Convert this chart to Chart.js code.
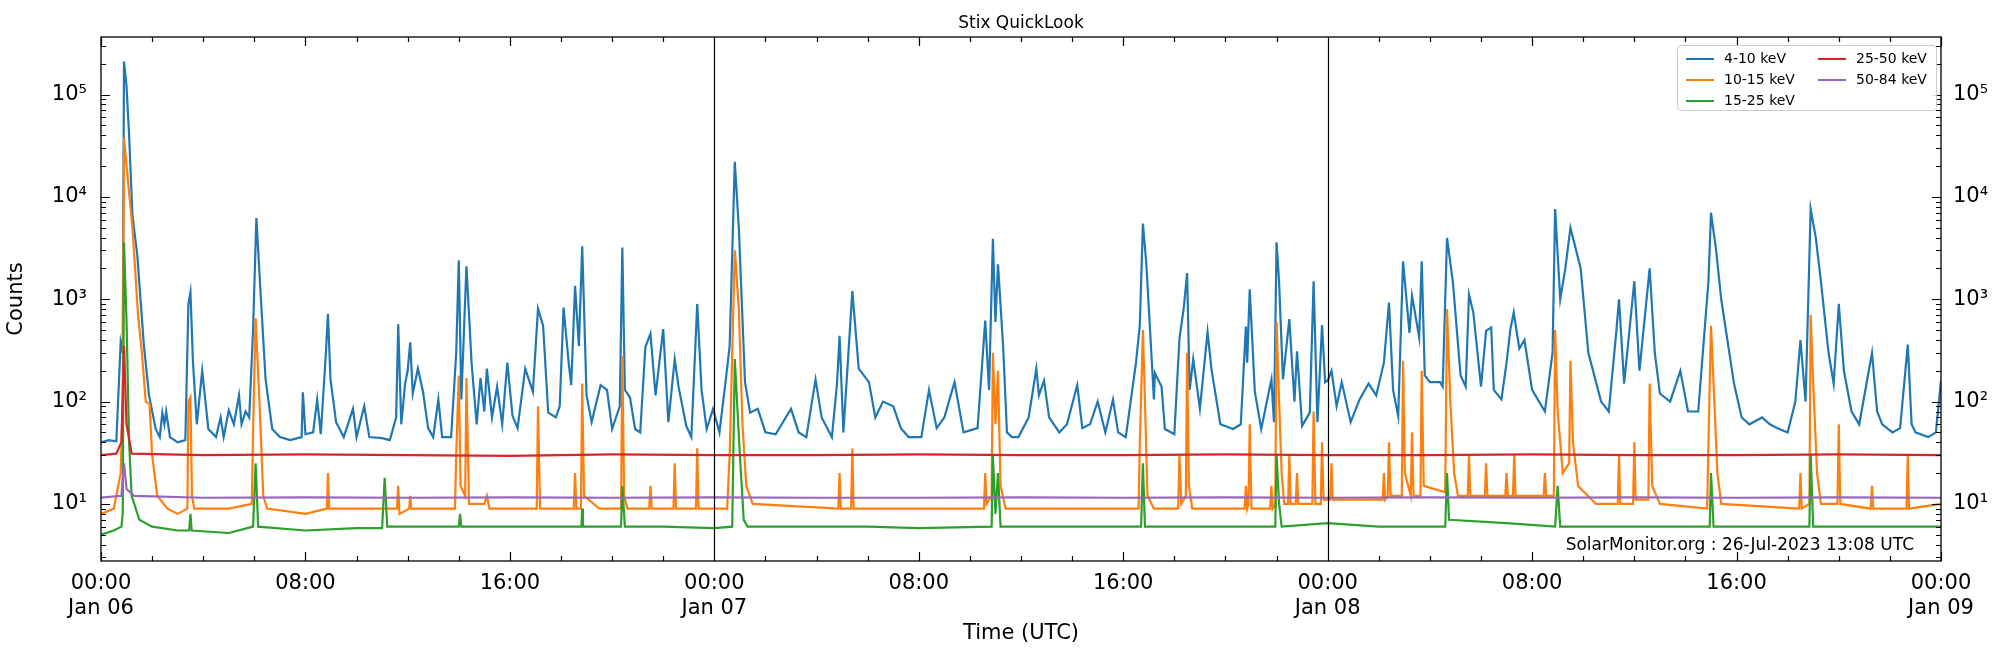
<!DOCTYPE html>
<html><head><meta charset="utf-8">
<script src="https://cdn.jsdelivr.net/npm/chart.js@4/dist/chart.umd.min.js"></script>
<style>
body{margin:0;background:#fff;font-family:"DejaVu Sans",sans-serif;}
#wrap{position:relative;width:2000px;height:650px;}
#title{position:absolute;top:12px;left:101px;width:1840px;text-align:center;font-size:17px;color:#000;}
#legend{position:absolute;left:1677px;top:45px;width:258px;height:64px;border:1px solid #ccc;border-radius:4px;background:rgba(255,255,255,0.85);font-size:14px;}
.it{position:absolute;height:20px;line-height:20px;white-space:nowrap;}
.it span{display:inline-block;width:28px;height:2px;vertical-align:middle;margin-right:10px;}
#note{position:absolute;right:86px;top:534px;font-size:17px;color:#000;}
</style></head><body>
<div id="wrap">
<canvas id="c" width="2000" height="650"></canvas>
<div id="title">Stix QuickLook</div>
<div id="legend"></div>
<div id="note">SolarMonitor.org : 26-Jul-2023 13:08 UTC</div>
</div>
<script>
const seriesNames=["4-10 keV","10-15 keV","15-25 keV","25-50 keV","50-84 keV"];
const dayLabels=["Jan 06","Jan 07","Jan 08","Jan 09"];
const yTickValues=[10,100,1000,10000,100000];
const yTickLabels=["10¹","10²","10³","10⁴","10⁵"];
const dayBoundaries=[24,48];

const blue=[[0,40],[0.3,42],[0.6,41],[0.77,380],[0.85,300],[0.9,210000],[1.0,120000],[1.1,40000],[1.23,6600],[1.42,2700],[1.68,350],[1.88,115],[2.14,54],[2.3,45],[2.4,78],[2.48,60],[2.55,80],[2.7,45],[3.0,40],[3.3,42],[3.42,900],[3.5,1170],[3.6,240],[3.75,60],[3.96,200],[4.2,54],[4.5,45],[4.68,70],[4.8,45],[5.0,82],[5.2,60],[5.4,115],[5.5,60],[5.66,80],[5.8,70],[5.95,500],[6.08,6200],[6.25,1090],[6.44,165],[6.7,54],[7.0,45],[7.4,42],[7.85,45],[7.9,123],[8.0,48],[8.3,50],[8.46,105],[8.6,48],[8.8,300],[8.88,720],[8.98,165],[9.2,63],[9.5,45],[9.86,85],[10.0,45],[10.3,90],[10.5,45],[11.0,44],[11.3,42],[11.55,70],[11.63,570],[11.75,60],[11.9,150],[12.0,200],[12.1,380],[12.2,120],[12.4,210],[12.6,125],[12.8,55],[13.0,45],[13.2,105],[13.35,45],[13.7,45],[13.9,300],[14.0,2400],[14.1,105],[14.3,2100],[14.5,240],[14.7,60],[14.85,170],[15.0,80],[15.1,210],[15.3,70],[15.5,140],[15.7,60],[15.9,240],[16.1,73],[16.3,55],[16.6,210],[16.9,125],[17.1,810],[17.3,550],[17.5,78],[17.8,70],[17.95,90],[18.1,830],[18.3,240],[18.4,145],[18.55,1350],[18.7,350],[18.83,3300],[19.0,115],[19.2,63],[19.55,145],[19.8,130],[20.0,54],[20.3,90],[20.4,3200],[20.5,130],[20.7,110],[20.9,54],[21.1,50],[21.3,340],[21.5,460],[21.7,115],[22.0,510],[22.2,63],[22.45,260],[22.6,140],[22.9,58],[23.1,45],[23.33,900],[23.5,130],[23.7,54],[23.95,85],[24.2,50],[24.45,165],[24.6,350],[24.8,22000],[24.96,4900],[25.2,155],[25.4,78],[25.7,85],[26.0,50],[26.4,48],[27.0,85],[27.3,50],[27.6,45],[27.96,165],[28.2,70],[28.6,45],[28.8,150],[28.9,440],[29.05,50],[29.4,1200],[29.65,210],[30.05,155],[30.3,70],[30.6,100],[31.0,90],[31.3,55],[31.6,45],[32.1,45],[32.4,130],[32.7,55],[33.0,70],[33.4,155],[33.75,50],[34.3,55],[34.6,620],[34.75,130],[34.9,3900],[35.0,600],[35.1,2200],[35.2,870],[35.3,350],[35.45,50],[35.65,45],[35.9,45],[36.3,70],[36.6,210],[36.7,115],[36.9,160],[37.1,70],[37.5,50],[37.8,60],[38.2,145],[38.4,55],[38.7,60],[39.0,100],[39.3,50],[39.6,105],[39.8,50],[40.1,45],[40.5,240],[40.65,560],[40.77,5500],[40.9,2300],[41.1,300],[41.2,105],[41.24,190],[41.5,140],[41.63,54],[42.0,48],[42.2,410],[42.37,830],[42.5,1800],[42.6,130],[42.74,260],[43.0,85],[43.3,480],[43.45,210],[43.8,60],[44.3,54],[44.6,60],[44.8,540],[44.85,240],[44.95,1250],[45.15,125],[45.4,54],[45.8,165],[45.9,63],[46.0,3600],[46.1,1460],[46.25,165],[46.5,640],[46.7,100],[46.8,310],[47.0,58],[47.3,78],[47.45,1500],[47.6,63],[47.78,560],[47.9,155],[48.0,160],[48.15,200],[48.35,90],[48.55,155],[48.9,63],[49.25,105],[49.6,150],[49.9,115],[50.2,240],[50.4,930],[50.56,130],[50.76,72],[50.95,2350],[51.2,470],[51.3,1080],[51.4,780],[51.58,425],[51.68,2350],[51.8,180],[52.0,155],[52.4,155],[52.5,140],[52.67,3970],[52.9,1470],[53.2,180],[53.4,140],[53.53,1110],[53.7,740],[54.0,140],[54.2,490],[54.4,530],[54.5,130],[54.8,105],[55.0,240],[55.15,510],[55.28,740],[55.5,330],[55.7,400],[56.0,130],[56.5,80],[56.8,300],[56.9,7600],[57.1,1000],[57.3,2000],[57.5,5000],[57.9,2000],[58.2,300],[58.7,100],[59.0,80],[59.3,500],[59.4,1000],[59.6,150],[60.0,1500],[60.2,200],[60.6,2000],[60.8,300],[61.0,120],[61.4,100],[61.8,200],[62.1,80],[62.5,80],[62.9,1500],[63.0,7000],[63.2,3000],[63.4,1000],[63.9,150],[64.2,70],[64.5,60],[65.0,70],[65.3,60],[65.6,55],[66.0,50],[66.3,100],[66.5,400],[66.7,100],[66.9,7600],[67.1,4000],[67.3,1500],[67.6,300],[67.8,150],[68.0,900],[68.2,200],[68.5,80],[68.8,60],[69.3,300],[69.5,80],[69.7,60],[70.1,50],[70.4,55],[70.7,360],[70.85,60],[71.0,50],[71.5,45],[71.8,50],[72.0,160]];

const orange=[[0,8],[0.5,9],[0.77,20],[0.85,100],[0.9,38000],[1.0,20000],[1.23,5000],[1.45,700],[1.6,300],[1.75,100],[1.9,95],[2.0,30],[2.2,12],[2.6,9],[3.0,8],[3.38,9],[3.42,100],[3.5,110],[3.56,12],[3.65,9],[5.0,9],[5.9,10],[5.95,50],[6.05,650],[6.2,100],[6.35,12],[6.5,9],[8.0,8],[8.84,9],[8.88,20],[8.93,9],[11.58,9],[11.63,15],[11.68,8],[12.06,9],[12.1,12],[12.14,9],[13.85,9],[13.9,30],[14.0,180],[14.07,15],[14.25,12],[14.3,170],[14.4,10],[15.0,10],[15.1,12],[15.2,9],[17.05,9],[17.1,90],[17.18,9],[18.5,9],[18.55,20],[18.6,9],[18.78,9],[18.83,150],[18.9,12],[19.5,9],[20.35,9],[20.4,280],[20.47,12],[20.6,9],[21.45,9],[21.5,15],[21.55,9],[22.4,9],[22.45,25],[22.5,9],[23.28,9],[23.33,35],[23.38,9],[24.5,9],[24.6,30],[24.8,3000],[24.96,800],[25.1,60],[25.25,15],[25.5,10],[28.85,9],[28.9,20],[28.95,9],[29.35,9],[29.4,35],[29.45,9],[34.55,9],[34.6,20],[34.65,10],[34.85,12],[34.9,300],[35.0,60],[35.1,200],[35.2,15],[35.4,9],[40.6,9],[40.65,40],[40.77,500],[40.85,100],[40.95,12],[41.2,9],[42.15,9],[42.2,30],[42.27,10],[42.45,12],[42.5,300],[42.57,15],[42.7,9],[44.75,9],[44.8,15],[44.85,9],[44.9,10],[44.95,60],[45.02,9],[45.75,9],[45.8,15],[45.85,9],[45.95,10],[46.0,600],[46.1,100],[46.2,20],[46.3,10],[46.45,10],[46.5,30],[46.55,10],[46.75,10],[46.8,20],[46.85,10],[47.4,10],[47.45,80],[47.52,10],[47.73,10],[47.78,40],[47.84,11],[48.1,11],[48.15,25],[48.2,11],[49.5,11],[50.15,11],[50.2,20],[50.25,11],[50.35,12],[50.4,40],[50.46,12],[50.9,12],[50.95,250],[51.02,20],[51.25,12],[51.3,50],[51.36,12],[51.63,12],[51.68,200],[51.76,15],[52.6,13],[52.67,800],[52.8,100],[52.95,20],[53.1,12],[53.48,12],[53.53,30],[53.58,12],[54.15,12],[54.2,25],[54.25,12],[54.95,12],[55.0,20],[55.05,12],[55.25,12],[55.3,30],[55.35,12],[56.45,12],[56.5,20],[56.55,12],[56.85,12],[56.9,500],[57.0,80],[57.2,20],[57.45,25],[57.5,250],[57.6,40],[57.8,15],[58.5,10],[59.35,10],[59.4,30],[59.45,10],[59.95,10],[60.0,40],[60.05,11],[60.55,11],[60.6,150],[60.7,15],[61.0,10],[62.85,9],[62.9,40],[63.0,550],[63.1,150],[63.25,20],[63.4,10],[66.45,9],[66.5,20],[66.55,9],[66.85,10],[66.9,700],[67.0,150],[67.15,20],[67.3,10],[67.95,10],[68.0,60],[68.06,10],[69.25,9],[69.3,15],[69.35,9],[70.65,9],[70.7,30],[70.75,9],[72,10]];

const green=[[0,5],[0.5,5.5],[0.8,6],[0.85,8],[0.9,3600],[1.0,600],[1.1,40],[1.2,12],[1.5,7],[2,6],[3.0,5.5],[3.45,5.5],[3.5,8],[3.55,5.5],[5,5.2],[5.95,6],[6.05,25],[6.15,6],[8,5.5],[10,5.8],[11.0,5.8],[11.1,18],[11.2,6],[14,6],[14.05,8],[14.1,6],[16,6],[18.8,6],[18.83,9],[18.86,6],[20.35,6],[20.4,15],[20.5,6],[22,6],[24,5.8],[24.7,6],[24.8,260],[25.0,30],[25.15,7],[25.3,6],[28,6],[30,6],[32,5.8],[34.85,6],[34.9,30],[35.0,8],[35.1,20],[35.2,6],[38,6],[40.7,6],[40.77,25],[40.85,6],[44,6],[45.95,6],[46.0,30],[46.1,10],[46.2,6],[48,6.5],[50,6],[52.6,6],[52.67,20],[52.75,7],[55,6.5],[56.9,6],[57,15],[57.1,6],[60,6],[62.95,6],[63,20],[63.1,6],[66,6],[66.85,6],[66.9,30],[67.0,6],[69,6],[72,6]];

const red=[[0,30],[0.6,31],[0.8,40],[0.9,350],[1.0,60],[1.2,31],[4,30],[8,30.5],[12,30],[16,29.5],[20,30.5],[24,30],[28,30],[32,30.5],[36,30],[40,30],[44,30.5],[48,30],[52,30],[56,30.5],[60,30],[64,30],[68,30.5],[72,30]];

const purple=[[0,11.5],[0.8,12],[0.9,25],[1.0,14],[1.3,12],[4,11.5],[8,11.6],[12,11.5],[16,11.6],[20,11.5],[24,11.6],[28,11.5],[32,11.5],[36,11.6],[40,11.5],[44,11.6],[48,11.5],[52,11.6],[56,11.5],[60,11.6],[64,11.5],[68,11.6],[72,11.5]];

const colors=["#1f77b4","#ff7f0e","#2ca02c","#d62728","#9467bd"];
const allSeries=[blue,orange,green,red,purple];

const leg=document.getElementById('legend');
const pos=[[8,2],[8,23],[8,44],[140,2],[140,23]];
seriesNames.forEach((n,i)=>{const d=document.createElement('div');d.className='it';d.style.left=pos[i][0]+'px';d.style.top=pos[i][1]+'px';d.innerHTML='<span style="background:'+colors[i]+'"></span>'+n;leg.appendChild(d);});

const tickPlugin={id:'ticks',afterDraw(ch){
  const c=ch.ctx,a=ch.chartArea,x=ch.scales.x,y=ch.scales.y;
  c.save();c.strokeStyle='#000';c.lineWidth=1.2;
  c.beginPath();
  dayBoundaries.forEach(h=>{const px=Math.round(x.getPixelForValue(h))+0.5;c.moveTo(px,a.top);c.lineTo(px,a.bottom);});
  for(let h=0;h<=72;h+=2){const px=Math.round(x.getPixelForValue(h))+0.5;const L=h%8===0?9:5;
    c.moveTo(px,a.bottom);c.lineTo(px,a.bottom-L);c.moveTo(px,a.top);c.lineTo(px,a.top+L);}
  for(let e=0;e<=5;e++){for(let m=1;m<10;m++){const v=m*Math.pow(10,e);if(v<y.min||v>y.max)continue;
    const py=Math.round(y.getPixelForValue(v))+0.5;const L=m===1?9:5;
    c.moveTo(a.left,py);c.lineTo(a.left+L,py);c.moveTo(a.right,py);c.lineTo(a.right-L,py);}}
  c.stroke();
  c.lineWidth=1.3;c.strokeRect(a.left,a.top,a.right-a.left,a.bottom-a.top);
  c.restore();}};

const yOpts=(p,w)=>({type:'logarithmic',position:p,min:2.77,max:365000,
  afterBuildTicks:s=>{s.ticks=yTickValues.map(v=>({value:v}));},
  afterFit:s=>{s.width=w;},
  grid:{display:false,drawTicks:false},border:{display:false},
  ticks:{color:'#000',font:{size:21,family:'DejaVu Sans'},padding:p==='left'?14:12,
    callback:(v)=>{const i=yTickValues.indexOf(v);return i>=0?yTickLabels[i]:'';}},
  title:{display:p==='left',text:'Counts',color:'#000',font:{size:21,family:'DejaVu Sans'},padding:{bottom:4}}});

new Chart(document.getElementById('c'),{type:'line',
  data:{datasets:allSeries.map((s,i)=>({label:seriesNames[i],data:s.map(p=>({x:p[0],y:p[1]})),
    borderColor:colors[i],borderWidth:2.2,pointRadius:0,tension:0,fill:false,order:5-i}))},
  options:{responsive:false,animation:false,
    layout:{padding:{top:37,left:0,right:0,bottom:0}},
    plugins:{legend:{display:false},title:{display:false},tooltip:{enabled:false}},
    scales:{
      x:{type:'linear',min:0,max:72,afterFit:s=>{s.height=89;},
        afterBuildTicks:s=>{const t=[];for(let h=0;h<=72;h+=8)t.push({value:h});s.ticks=t;},
        grid:{display:false,drawTicks:false},border:{display:false},
        ticks:{color:'#000',font:{size:21,family:'DejaVu Sans'},padding:10,maxRotation:0,autoSkip:false,
          callback:v=>{const hh=String(v%24).padStart(2,'0')+':00';return v%24===0?[hh,dayLabels[v/24]]:hh;}},
        title:{display:true,text:'Time (UTC)',color:'#000',font:{size:21,family:'DejaVu Sans'},padding:{top:2}}},
      y:yOpts('left',101),
      y2:{...yOpts('right',59)}
    }},
  plugins:[tickPlugin]});
</script></body></html>
